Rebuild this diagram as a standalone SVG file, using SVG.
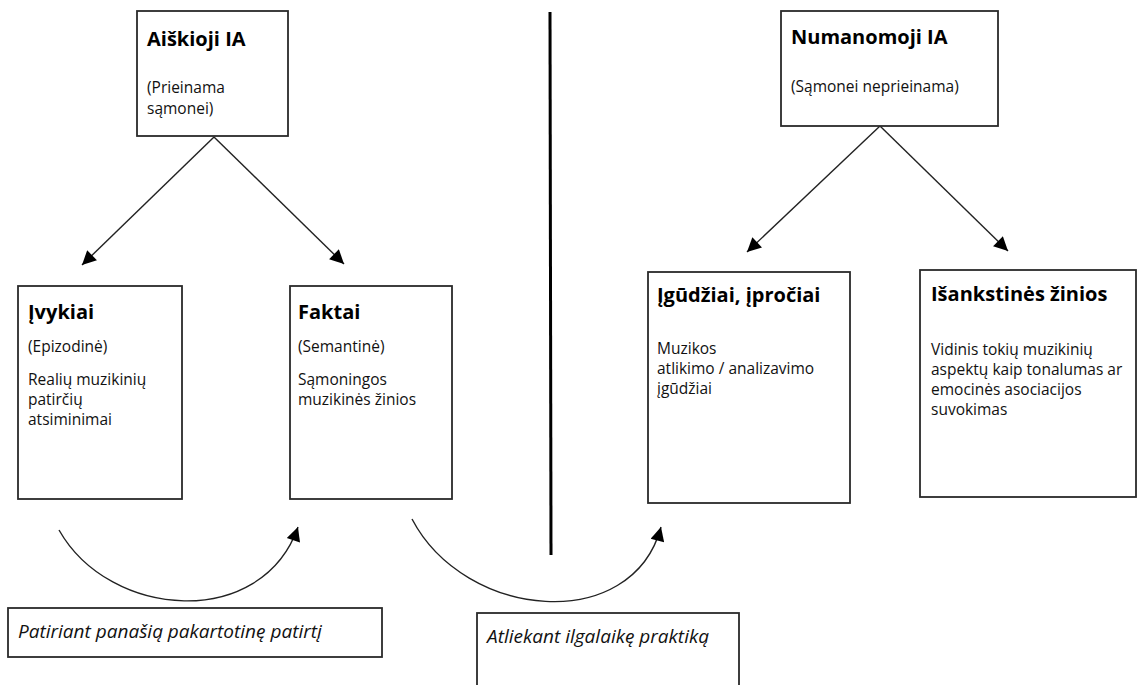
<svg xmlns="http://www.w3.org/2000/svg" width="1139" height="685" viewBox="0 0 1139 685">
<style>
.box{fill:#fff;stroke:#2a2a2a;stroke-width:1.8}
.t{font-family:"Open Sans","Noto Sans",sans-serif;font-size:20px;font-weight:bold;fill:#000}
.b{font-family:"Open Sans","Noto Sans",sans-serif;font-size:15.5px;fill:#111}
.i{font-family:"Open Sans","Noto Sans",sans-serif;font-size:19px;font-style:italic;fill:#111}
.ln{fill:none;stroke:#222;stroke-width:1.4}
</style>
<defs>
<marker id="ah" viewBox="0 0 10 10" refX="10" refY="5" markerWidth="18" markerHeight="14" markerUnits="userSpaceOnUse" orient="auto">
<path d="M0,0 L10,5 L0,10 Z" fill="#000"/>
</marker>
</defs>
<rect width="1139" height="685" fill="#fff"/>
<g id="connectors">
<line class="ln" x1="214" y1="137" x2="82" y2="265" marker-end="url(#ah)"/>
<line class="ln" x1="214" y1="137" x2="344" y2="264" marker-end="url(#ah)"/>
<line class="ln" x1="880" y1="126" x2="747" y2="252" marker-end="url(#ah)"/>
<line class="ln" x1="880" y1="126" x2="1008" y2="251" marker-end="url(#ah)"/>
<path class="ln" d="M59,530 C110,620 262,630 298,527" marker-end="url(#ah)"/>
<path class="ln" d="M412,519 C465,620 632,635 661,527" marker-end="url(#ah)"/>
</g>
<g id="divider">
<line x1="550" y1="12" x2="551" y2="555" stroke="#000" stroke-width="3"/>
</g>
<g id="node-aiskioji">
<rect class="box" x="137" y="11" width="151" height="125"/>
<text class="t" x="147" y="46">Aiškioji IA</text>
<text class="b" x="147" y="93">(Prieinama</text>
<text class="b" x="147" y="114">sąmonei)</text>
</g>
<g id="node-numanomoji">
<rect class="box" x="781" y="11" width="217" height="115"/>
<text class="t" x="791" y="44">Numanomoji IA</text>
<text class="b" x="791" y="92">(Sąmonei neprieinama)</text>
</g>
<g id="node-ivykiai">
<rect class="box" x="18" y="286" width="164" height="213"/>
<text class="t" x="28" y="319">Įvykiai</text>
<text class="b" x="28" y="352">(Epizodinė)</text>
<text class="b" x="28" y="385">Realių muzikinių</text>
<text class="b" x="28" y="405">patirčių</text>
<text class="b" x="28" y="425">atsiminimai</text>
</g>
<g id="node-faktai">
<rect class="box" x="290" y="286" width="162" height="213"/>
<text class="t" x="298" y="319">Faktai</text>
<text class="b" x="298" y="352">(Semantinė)</text>
<text class="b" x="298" y="385">Sąmoningos</text>
<text class="b" x="298" y="405">muzikinės žinios</text>
</g>
<g id="node-igudziai">
<rect class="box" x="648" y="272" width="202" height="231"/>
<text class="t" x="657" y="302">Įgūdžiai, įpročiai</text>
<text class="b" x="657" y="354">Muzikos</text>
<text class="b" x="657" y="374">atlikimo / analizavimo</text>
<text class="b" x="657" y="394">įgūdžiai</text>
</g>
<g id="node-isankstines">
<rect class="box" x="920" y="270" width="216" height="227"/>
<text class="t" x="931" y="301">Išankstinės žinios</text>
<text class="b" x="931" y="355">Vidinis tokių muzikinių</text>
<text class="b" x="931" y="375">aspektų kaip tonalumas ar</text>
<text class="b" x="931" y="395">emocinės asociacijos</text>
<text class="b" x="931" y="415">suvokimas</text>
</g>
<g id="node-patiriant">
<rect class="box" x="8" y="608" width="374" height="49"/>
<text class="i" x="18" y="638">Patiriant panašią pakartotinę patirtį</text>
</g>
<g id="node-atliekant">
<rect class="box" x="477" y="613" width="262" height="85"/>
<text class="i" x="487" y="643">Atliekant ilgalaikę praktiką</text>
</g>
</svg>
